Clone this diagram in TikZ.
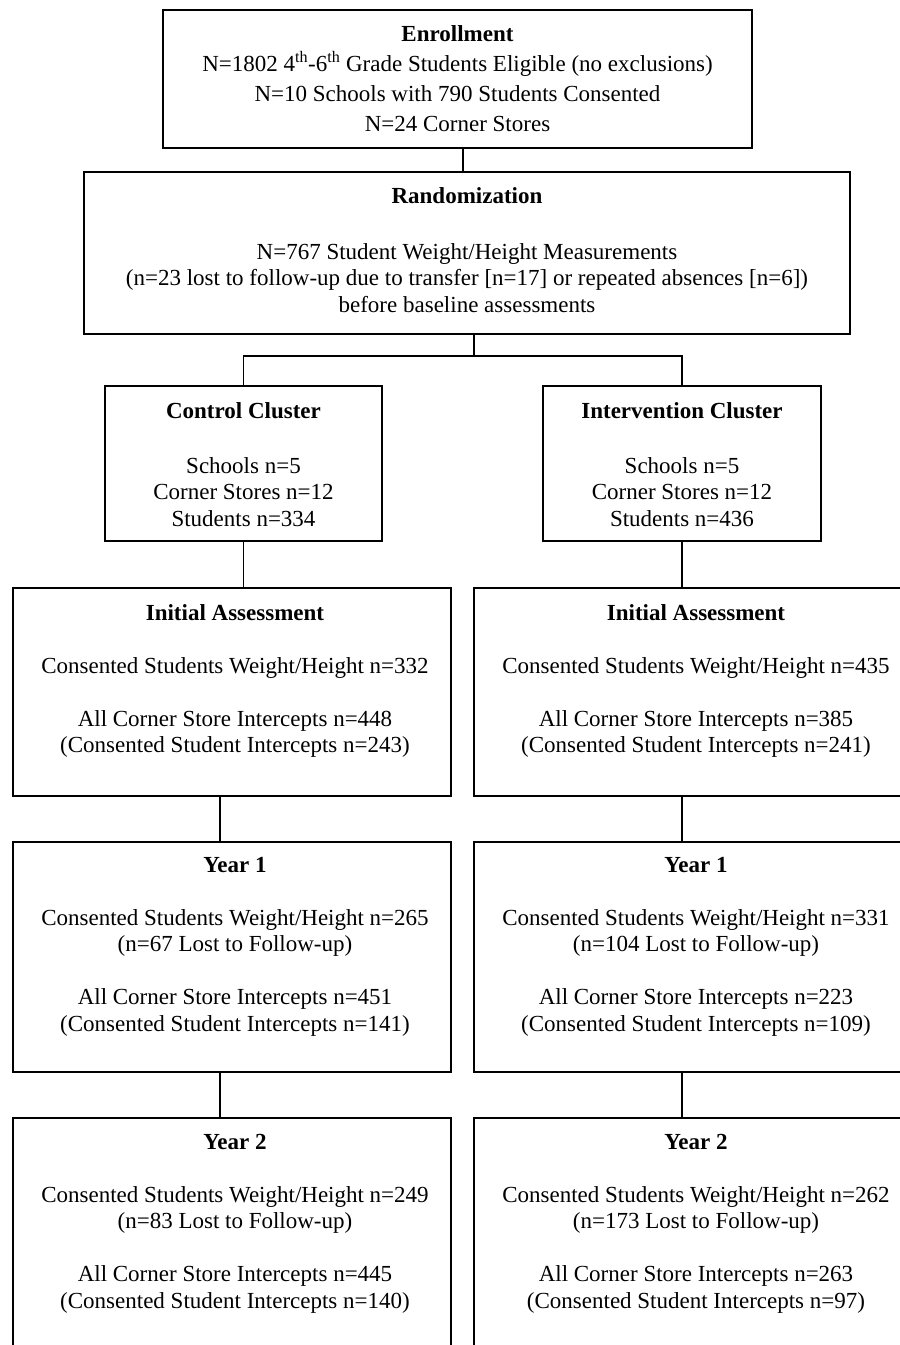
\documentclass[tikz,border=0pt]{standalone}
\usepackage{fontspec}
\setmainfont{Liberation Serif}
\begin{document}
\begin{tikzpicture}[x=1pt,y=-1pt,
  box/.style={draw=black, line width=1.7pt, fill=none, inner sep=0pt, outer sep=0pt},
  txt/.style={anchor=north, inner sep=0pt, align=center, font=\fontsize{23}{26.5}\selectfont},
  conn/.style={draw=black, line width=1.4pt}]
\useasboundingbox (0,0) rectangle (900,1345);
\clip (0,0) rectangle (900,1345);
\fill[white] (0,0) rectangle (900,1345);
% boxes
\node[box, minimum width=589pt, minimum height=138pt] (enr) at (457.5,79) {};
\node[box, minimum width=766pt, minimum height=162pt] (rnd) at (467,253) {};
\node[box, minimum width=277pt, minimum height=155pt] (ctl) at (243.5,463.5) {};
\node[box, minimum width=278pt, minimum height=155pt] (itv) at (682,463.5) {};
\node[box, minimum width=438pt, minimum height=208pt] (iaL) at (232,692) {};
\node[box, minimum width=438pt, minimum height=208pt] (iaR) at (693,692) {};
\node[box, minimum width=438pt, minimum height=230pt] (y1L) at (232,957) {};
\node[box, minimum width=438pt, minimum height=230pt] (y1R) at (693,957) {};
\node[box, minimum width=438pt, minimum height=242pt] (y2L) at (232,1239) {};
\node[box, minimum width=438pt, minimum height=242pt] (y2R) at (693,1239) {};
% texts
\node[txt, font=\fontsize{23}{30}\selectfont] (tenr) at (457.5,25) {\textbf{Enrollment}\\
N=1802 4\textsuperscript{th}-6\textsuperscript{th} Grade Students Eligible (no exclusions)\\
N=10 Schools with 790 Students Consented\\
N=24 Corner Stores};
\node[txt] (trnd) at (467,187) {\textbf{Randomization}\\[29.5pt]
N=767 Student Weight/Height Measurements\\
(n=23 lost to follow-up due to transfer [n=17] or repeated absences [n=6])\\
before baseline assessments};
\node[txt] (tctl) at (243.5,402) {\textbf{Control Cluster}\\[28.5pt]
Schools n=5\\ Corner Stores n=12\\ Students n=334};
\node[txt] (titv) at (682,402) {\textbf{Intervention Cluster}\\[28.5pt]
Schools n=5\\ Corner Stores n=12\\ Students n=436};
\node[txt] (tiaL) at (235,604) {\textbf{Initial Assessment}\\[26.5pt]
Consented Students Weight/Height n=332\\[26.5pt]
All Corner Store Intercepts n=448\\
(Consented Student Intercepts n=243)};
\node[txt] (tiaR) at (696,604) {\textbf{Initial Assessment}\\[26.5pt]
Consented Students Weight/Height n=435\\[26.5pt]
All Corner Store Intercepts n=385\\
(Consented Student Intercepts n=241)};
\node[txt] (ty1L) at (235,857) {\textbf{Year 1}\\[26.5pt]
Consented Students Weight/Height n=265\\
(n=67 Lost to Follow-up)\\[26.5pt]
All Corner Store Intercepts n=451\\
(Consented Student Intercepts n=141)};
\node[txt] (ty1R) at (696,857) {\textbf{Year 1}\\[26.5pt]
Consented Students Weight/Height n=331\\
(n=104 Lost to Follow-up)\\[26.5pt]
All Corner Store Intercepts n=223\\
(Consented Student Intercepts n=109)};
\node[txt] (ty2L) at (235,1134) {\textbf{Year 2}\\[26.5pt]
Consented Students Weight/Height n=249\\
(n=83 Lost to Follow-up)\\[26.5pt]
All Corner Store Intercepts n=445\\
(Consented Student Intercepts n=140)};
\node[txt] (ty2R) at (696,1134) {\textbf{Year 2}\\[26.5pt]
Consented Students Weight/Height n=262\\
(n=173 Lost to Follow-up)\\[26.5pt]
All Corner Store Intercepts n=263\\
(Consented Student Intercepts n=97)};
% connector guides
\coordinate (cx1) at (463,0);
\coordinate (cx2) at (474,0);
\coordinate (cy) at (0,356);
\coordinate (cxL) at (220,0);
\draw[conn] (enr.south -| cx1) -- (rnd.north -| cx1);
\draw[conn] (rnd.south -| cx2) -- (cy -| cx2);
\draw[conn] (ctl.north) -- (ctl.north |- cy) -- (itv.north |- cy) -- (itv.north);
\draw[conn] (ctl.south) -- (iaL.north -| ctl.south);
\draw[conn] (itv.south) -- (iaR.north -| itv.south);
\draw[conn] (iaL.south -| cxL) -- (y1L.north -| cxL);
\draw[conn] (iaR.south -| itv.south) -- (y1R.north -| itv.south);
\draw[conn] (y1L.south -| cxL) -- (y2L.north -| cxL);
\draw[conn] (y1R.south -| itv.south) -- (y2R.north -| itv.south);
\end{tikzpicture}
\end{document}
